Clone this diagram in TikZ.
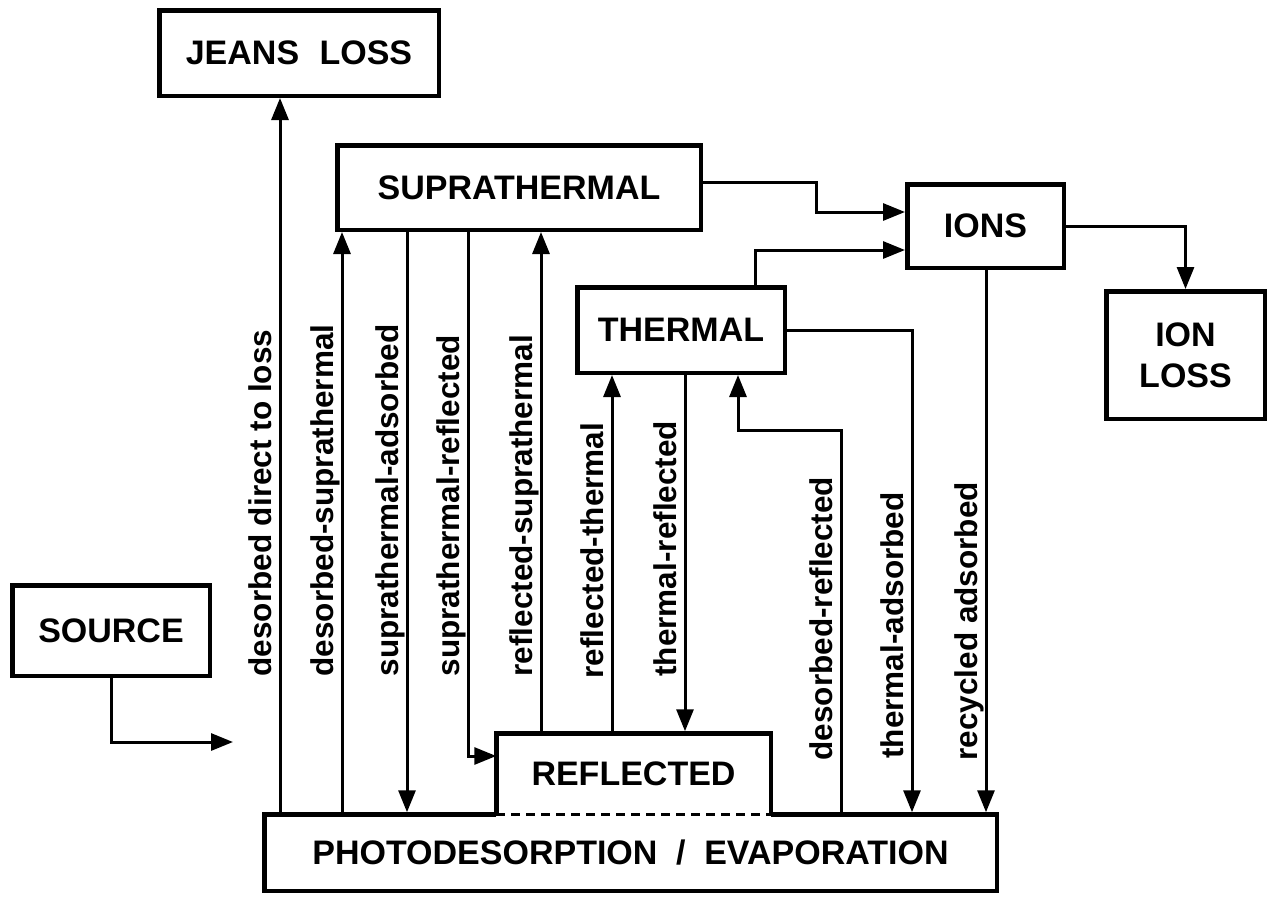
\documentclass[tikz,border=0pt]{standalone}
\usepackage{fontspec}
\setmainfont{Liberation Sans}
\usetikzlibrary{arrows.meta}

\tikzset{
    block/.style={draw, line width=4.5pt, inner sep=0pt, align=center,
        font=\bfseries\fontsize{34}{41}\selectfont},
    tag/.style={rotate=90, anchor=base west, inner sep=0pt,
        font=\bfseries\fontsize{31.5}{32}\selectfont},
}

\begin{document}
\begin{tikzpicture}[x=1pt, y=-1pt, ->, >={Triangle[length=22pt,width=17pt]}, line width=3pt]
    \useasboundingbox (0,0) rectangle (1271,897);

    % boxes
    \node[block, minimum width=279.5, minimum height=85.5]  (JeansLoss) at (299,53)      {JEANS\hspace{.6em}LOSS};
    \node[block, minimum width=363.5, minimum height=84.5]  (Supra)     at (519,187.5)   {SUPRATHERMAL};
    \node[block, minimum width=156.5, minimum height=83.5]  (Ions)      at (985.5,226)   {IONS};
    \node[block, minimum width=158.5, minimum height=127.5] (IonLoss)   at (1185.5,355)  {ION\\LOSS};
    \node[block, minimum width=207.5, minimum height=85.5]  (Thermal)   at (681,330)     {THERMAL};
    \node[block, minimum width=197.5, minimum height=90.5]  (Source)    at (111,630.5)   {SOURCE};
    \node[block, draw=none, outer sep=0pt, minimum width=274.5, minimum height=81]   (Refl)  at (633.5,773.75) {REFLECTED};
    \node[block, draw=none, outer sep=0pt, minimum width=732.5, minimum height=76.5] (Photo) at (630.5,852.5)  {PHOTODESORPTION\hspace{.55em}/\hspace{.55em}EVAPORATION};

    % reflected sits on photodesorption, shared edge dashed
    \draw[-, line width=4.5pt] (Refl.south west) |- (Refl.north east) -- (Refl.south east);
    \draw[-, line width=4.5pt] (Refl.south west) -- (Photo.north west) -- (Photo.south west)
        -- (Photo.south east) -- (Photo.north east) -- (Refl.south east);
    \draw[-, dash pattern=on 9pt off 6pt] (Refl.south west) -- (Refl.south east);

    % columns of the vertical flows
    \coordinate (xDirect)    at (280,0);
    \coordinate (xDesSup)    at (342,0);
    \coordinate (xSupAds)    at (407,0);
    \coordinate (xSupRefl)   at (468,0);
    \coordinate (xReflSup)   at (541,0);
    \coordinate (xReflTherm) at (612,0);
    \coordinate (xThermRefl) at (685,0);
    \coordinate (xDesRefl)   at (841,0);
    \coordinate (xThermAds)  at (912,0);
    \coordinate (xRecycled)  at (986,0);
    \coordinate (bendSR)     at (0,756);
    \coordinate (bendDR)     at (738,430);
    \coordinate (bendSI)     at (816,212);
    \coordinate (bendTI)     at (755,250);
    \coordinate (SourceEnd)  at (233,742);

    \draw ([yshift=2pt]Photo.north -| xDirect) -- (JeansLoss.south -| xDirect);
    \draw ([yshift=2pt]Photo.north -| xDesSup) -- (Supra.south -| xDesSup);
    \draw (Supra.south -| xSupAds)    -- ([yshift=2pt]Photo.north -| xSupAds);
    \draw (Supra.south -| xSupRefl)   |- (Refl.west |- bendSR);
    \draw ([yshift=2pt]Refl.north -| xReflSup)   -- (Supra.south -| xReflSup);
    \draw ([yshift=2pt]Refl.north -| xReflTherm) -- (Thermal.south -| xReflTherm);
    \draw (Thermal.south -| xThermRefl) -- ([yshift=2pt]Refl.north -| xThermRefl);
    \draw ([yshift=2pt]Photo.north -| xDesRefl) |- (bendDR) -- (Thermal.south -| bendDR);
    \draw (Thermal.east)              -| ([yshift=2pt]Photo.north -| xThermAds);
    \draw (Ions.south -| xRecycled)   -- ([yshift=2pt]Photo.north -| xRecycled);

    \draw ([yshift=5pt]Supra.east) -| (bendSI) -- (Ions.west |- bendSI);
    \draw (Thermal.north -| bendTI) |- (Ions.west |- bendTI);
    \draw (Ions.east) -| (IonLoss.north);
    \draw (Source.south) |- (SourceEnd);

    % flow names
    \node[tag] (tDirect)    at (271,678) {desorbed direct to loss};
    \node[tag] (tDesSup)    at (333,678) {desorbed-suprathermal};
    \node[tag] (tSupAds)    at (398,678) {suprathermal-adsorbed};
    \node[tag] (tSupRefl)   at (459,678) {suprathermal-reflected};
    \node[tag] (tReflSup)   at (532,678) {reflected-suprathermal};
    \node[tag] (tReflTherm) at (603,680) {reflected-thermal};
    \node[tag] (tThermRefl) at (676,678) {thermal-reflected};
    \node[tag] (tDesRefl)   at (832,762) {desorbed-reflected};
    \node[tag] (tThermAds)  at (903,760) {thermal-adsorbed};
    \node[tag] (tRecycled)  at (977,762) {recycled adsorbed};
\end{tikzpicture}
\end{document}
